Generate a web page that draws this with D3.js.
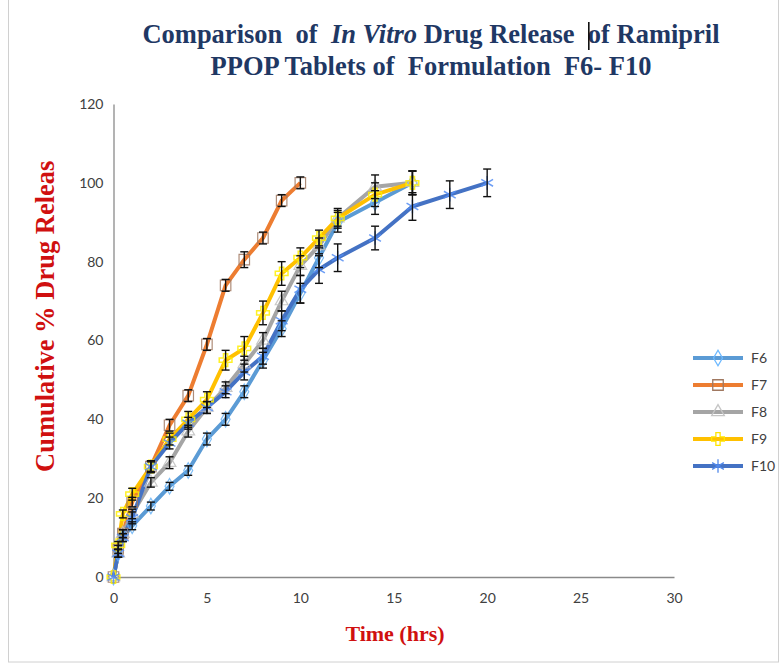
<!DOCTYPE html>
<html>
<head>
<meta charset="utf-8">
<script src="https://cdn.jsdelivr.net/npm/d3@7"></script>
<style>
  body { margin: 0; background: #fff; }
  text { white-space: pre; }
</style>
</head>
<body>
<div id="wrapper"></div>
<script>
// Tempos de coleta (h)
const time = [0, 0.25, 0.5, 1, 2, 3, 4, 5, 6, 7, 8, 9, 10, 11, 12, 14, 16, 18, 20];

// % liberada acumulada por formulação
const f6 = [0, 6, 10, 13, 18, 23, 27, 35, 40, 47, 55, 63, 72, 81, 90, 95, 100];
const f7 = [0, 7, 11, 19, 28, 38.5, 46, 59, 74, 80.5, 86, 95.5, 100];
const f8 = [0, 6, 11, 16, 24, 29, 37, 43, 48, 54, 60, 70, 79, 84, 91, 99, 100];
const f9 = [0, 8, 16, 21, 28, 35, 40, 45, 55, 58, 67, 77, 81, 86, 91, 97, 100];
const f10 = [0, 6, 10, 15, 28, 34, 39, 43, 47, 52, 56, 65, 73, 78, 81, 86, 94, 97, 100];

// desvio padrão (barras de erro)
const sd6 = [0, 1, 1, 1, 1, 1, 1.2, 1.5, 1.5, 1.5, 2, 2, 2.5, 2.5, 2.5, 3, 3];
const sd7 = [0, 1, 1, 1.2, 1.2, 1.5, 1.5, 1.5, 1.5, 2, 1.5, 1.5, 1.5];
const sd8 = [0, 1, 1, 1.2, 1.2, 1.5, 1.5, 1.5, 1.5, 2, 2, 2.5, 2.5, 2, 2, 3, 3];
const sd9 = [0, 1, 1, 1.5, 1.5, 1.5, 2, 2, 2.5, 3, 3, 3, 2.5, 2, 2.5, 3, 3];
const sd10 = [0, 1, 1, 1.5, 1.5, 1.5, 1.5, 1.5, 1.5, 2, 2, 2.5, 3.5, 3.5, 3.5, 3, 3.5, 3.5, 3.5];

const seriesNames = ["F6", "F7", "F8", "F9", "F10"];
const xTicks = [0, 5, 10, 15, 20, 25, 30];
const yTicks = [0, 20, 40, 60, 80, 100, 120];

const series = [
  { name: seriesNames[0], values: f6, sd: sd6, color: "#5b9bd5", marker: "diamond" },
  { name: seriesNames[1], values: f7, sd: sd7, color: "#ed7d31", marker: "square" },
  { name: seriesNames[2], values: f8, sd: sd8, color: "#a5a5a5", marker: "triangle" },
  { name: seriesNames[3], values: f9, sd: sd9, color: "#ffc000", marker: "plus" },
  { name: seriesNames[4], values: f10, sd: sd10, color: "#4472c4", marker: "star" }
];

const width = 784, height = 672;
const svg = d3.select("#wrapper").append("svg")
  .attr("width", width).attr("height", height);

// moldura
svg.append("rect")
  .attr("x", 8.5).attr("y", -1).attr("width", 770).attr("height", 663)
  .attr("fill", "#fff").attr("stroke", "#d0d0d0");

const x = d3.scaleLinear().domain([0, 30]).range([113.5, 674]);
const y = d3.scaleLinear().domain([0, 120]).range([577, 104]);

// eixos
const xAxis = svg.append("g").attr("transform", "translate(0,577)")
  .call(d3.axisBottom(x).tickValues(xTicks).tickSize(0).tickPadding(16));
const yAxis = svg.append("g").attr("transform", "translate(113.5,0)")
  .call(d3.axisLeft(y).tickValues(yTicks).tickSize(0).tickPadding(10));
[xAxis, yAxis].forEach(a => {
  a.select(".domain").attr("stroke", "#8a8a8a").attr("stroke-width", 1.3);
  a.selectAll("text").attr("font-family", "Lato, 'Open Sans', sans-serif")
    .attr("font-size", 14).attr("fill", "#404040");
});

// símbolos
const sym = {
  diamond: d3.symbol().type(d3.symbolDiamond).size(70),
  square: d3.symbol().type(d3.symbolSquare).size(110),
  triangle: d3.symbol().type(d3.symbolTriangle).size(70),
  plus: d3.symbol().type(d3.symbolCross).size(90),
  star: d3.symbol().type(d3.symbolAsterisk).size(130)
};

const line = d3.line().x(d => x(d.t)).y(d => y(d.v));
const plot = svg.append("g");

series.forEach(s => {
  const pts = s.values.map((v, i) => ({ t: time[i], v: v, sd: s.sd[i] }));
  s.pts = pts;
  plot.append("path")
    .attr("d", line(pts))
    .attr("fill", "none")
    .attr("stroke", s.color)
    .attr("stroke-width", 4)
    .attr("stroke-linejoin", "round");
});

// marcadores
series.forEach(s => {
  const isLine = s.marker === "plus" || s.marker === "star";
  plot.append("g").selectAll("path").data(s.pts).join("path")
    .attr("transform", d => "translate(" + x(d.t) + "," + y(d.v) + ")")
    .attr("d", sym[s.marker]())
    .attr("fill", "none")
    .attr("stroke", s.marker === "square" ? "#a07860" : (isLine ? d3.color(s.color).brighter(0.6) : d3.color(s.color).brighter(0.4)))
    .attr("stroke-width", isLine ? 1.5 : 1.2)
    .attr("opacity", 0.85);
});

// barras de erro
series.forEach(s => {
  const g = plot.append("g").attr("stroke", "#111").attr("stroke-width", 1.4);
  s.pts.filter(d => d.sd > 0).forEach(d => {
    const cx = x(d.t), y0 = y(d.v - d.sd), y1 = y(d.v + d.sd);
    g.append("line").attr("x1", cx).attr("x2", cx).attr("y1", y0).attr("y2", y1);
    g.append("line").attr("x1", cx - 4).attr("x2", cx + 4).attr("y1", y0).attr("y2", y0);
    g.append("line").attr("x1", cx - 4).attr("x2", cx + 4).attr("y1", y1).attr("y2", y1);
  });
});

// legenda
const legend = svg.append("g");
series.forEach((s, i) => {
  const ly = 358 + i * 27;
  legend.append("line").attr("x1", 693).attr("x2", 743).attr("y1", ly).attr("y2", ly)
    .attr("stroke", s.color).attr("stroke-width", 4);
  legend.append("path")
    .attr("transform", "translate(718," + ly + ")")
    .attr("d", sym[s.marker]())
    .attr("fill", "none")
    .attr("stroke", s.marker === "square" ? "#a07860" : d3.color(s.color).brighter(0.5))
    .attr("stroke-width", 1.3);
  legend.append("text").attr("x", 751).attr("y", ly + 5)
    .attr("font-family", "Lato, 'Open Sans', sans-serif").attr("font-size", 14)
    .attr("fill", "#404040").text(s.name);
});

// título
const title = svg.append("text").attr("text-anchor", "middle")
  .attr("font-family", "'Liberation Serif', 'DejaVu Serif', serif")
  .attr("font-weight", "bold").attr("font-size", 26.5).attr("fill", "#1f3864");
const t1 = title.append("tspan").attr("x", 431).attr("y", 43);
t1.append("tspan").text("Comparison  of  ");
t1.append("tspan").attr("font-style", "italic").text("In Vitro");
t1.append("tspan").text(" Drug Release  ");
t1.append("tspan").text("of Ramipril");
title.append("tspan").attr("x", 431).attr("y", 75).text("PPOP Tablets of  Formulation  F6- F10");
// cursor de texto antes de "of Ramipril"
const ofIdx = "Comparison  of  In Vitro Drug Release  ".length;
const curX = title.node().getStartPositionOfChar(ofIdx).x + 1;
svg.append("line").attr("x1", curX).attr("x2", curX).attr("y1", 22).attr("y2", 50)
  .attr("stroke", "#000").attr("stroke-width", 1.5);

// rótulos dos eixos (cortado no topo como no original)
svg.append("defs").append("clipPath").attr("id", "yclip")
  .append("rect").attr("x", 0).attr("y", 160).attr("width", 100).attr("height", 400);
svg.append("g").attr("clip-path", "url(#yclip)")
  .append("text")
  .attr("transform", "translate(54,472) rotate(-90)")
  .attr("font-family", "'Liberation Serif', serif").attr("font-weight", "bold")
  .attr("font-size", 26.5).attr("fill", "#d01010")
  .text("Cumulative % Drug Release");

svg.append("text").attr("x", 395).attr("y", 641).attr("text-anchor", "middle")
  .attr("font-family", "'Liberation Serif', serif").attr("font-weight", "bold")
  .attr("font-size", 22).attr("fill", "#d01010")
  .text("Time (hrs)");
</script>
</body>
</html>
